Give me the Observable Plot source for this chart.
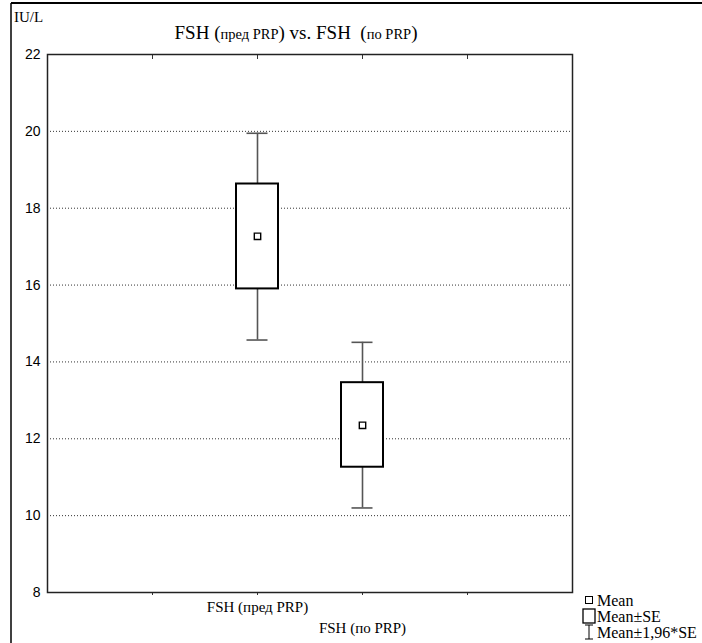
<!DOCTYPE html>
<html>
<head>
<meta charset="utf-8">
<script src="https://cdn.jsdelivr.net/npm/d3@7"></script>
<script src="https://cdn.jsdelivr.net/npm/@observablehq/plot@0.6"></script>
<style>
  html, body { margin: 0; padding: 0; background: white; }
  #chart { position: relative; width: 702px; height: 643px; }
  .serif-label { font-family: "Liberation Serif", "Times New Roman", serif !important; font-size: 15px !important; }
</style>
</head>
<body>
<div id="chart"></div>
<script>
// ---- data ----
const categories = ["FSH (пред PRP)", "FSH (по PRP)"];
const means  = [17.27, 12.35];
const seLow  = [15.90, 11.26];
const seHigh = [18.63, 13.46];
const ciLow  = [14.57, 10.20];
const ciHigh = [19.95, 14.51];
const yTicks = [8, 10, 12, 14, 16, 18, 20, 22];
const gridValues = [10, 12, 14, 16, 18, 20];
const xTicks = [1, 2, 3, 4];
const legendLabels = ["Mean", "Mean±SE", "Mean±1,96*SE"];
const yUnit = "IU/L";

const rows = categories.map((c, i) => ({
  i, cat: c, pos: i + 2,
  mean: means[i], seLow: seLow[i], seHigh: seHigh[i],
  ciLow: ciLow[i], ciHigh: ciHigh[i]
}));

const serif = "'Liberation Serif', 'Times New Roman', serif";
const sans = "'Liberation Sans', Arial, sans-serif";

const chart = Plot.plot({
  width: 702, height: 643,
  marginLeft: 47, marginRight: 130, marginTop: 54, marginBottom: 51,
  style: { background: "white", color: "black" },
  x: { domain: [0, 5], axis: null },
  y: { domain: [8, 22], axis: null },
  marks: [
    Plot.ruleY(gridValues, { stroke: "#333", strokeDasharray: "1,2", strokeWidth: 1 }),
    Plot.axisX({ anchor: "top", ticks: xTicks, tickSize: -4, tickFormat: () => "", label: null, stroke: "#333" }),
    Plot.axisX({ anchor: "bottom", ticks: xTicks, tickSize: 3, tickFormat: () => "", label: null, stroke: "#333" }),
    Plot.axisY({ ticks: yTicks, tickSize: 0, tickPadding: 7, label: null, fontSize: 14, fontFamily: sans, fill: "black" }),
    Plot.frame({ stroke: "#222", strokeWidth: 1.5 }),
    // whiskers (Mean ± 1.96*SE)
    Plot.ruleX(rows, { x: "pos", y1: "ciLow", y2: "ciHigh", stroke: "#555", strokeWidth: 1.6 }),
    Plot.ruleY(rows, { y: "ciHigh", x1: d => d.pos - 0.1, x2: d => d.pos + 0.1, stroke: "#555", strokeWidth: 1.6 }),
    Plot.ruleY(rows, { y: "ciLow", x1: d => d.pos - 0.1, x2: d => d.pos + 0.1, stroke: "#555", strokeWidth: 1.6 }),
    // boxes (Mean ± SE)
    Plot.rect(rows, { x1: d => d.pos - 0.2, x2: d => d.pos + 0.2, y1: "seLow", y2: "seHigh",
                      fill: "white", stroke: "black", strokeWidth: 2 }),
    // mean
    Plot.dot(rows, { x: "pos", y: "mean", symbol: "square", r: 3.6, fill: "white", stroke: "black", strokeWidth: 1.4 }),
    // category labels (staggered)
    Plot.text(rows, { filter: d => d.i === 0, x: "pos", text: "cat", frameAnchor: "bottom", dy: 19,
                      fontSize: 15, fill: "black" }),
    Plot.text(rows, { filter: d => d.i === 1, x: "pos", text: "cat", frameAnchor: "bottom", dy: 40,
                      fontSize: 15, fill: "black" })
  ]
});

document.getElementById("chart").appendChild(chart);

const svg = d3.select(chart);
// category labels in serif
svg.selectAll("text").each(function () {
  if (categories.includes(this.textContent)) {
    this.setAttribute("class", "serif-label");
    this.setAttribute("font-family", "Liberation Serif");
    this.style.fontFamily = "'Liberation Serif', serif";
  }
});

// ---- chrome: outer border, title, unit, legend ----
svg.append("line").attr("x1", 11).attr("x2", 11).attr("y1", 3).attr("y2", 643)
  .attr("stroke", "black").attr("stroke-width", 1.5);
svg.append("line").attr("x1", 11).attr("x2", 702).attr("y1", 3).attr("y2", 3)
  .attr("stroke", "black").attr("stroke-width", 2);

svg.append("text").attr("x", 14).attr("y", 22)
  .attr("text-anchor", "start")
  .style("font-family", serif).style("font-size", "15px").attr("fill", "black").text(yUnit);

const title = svg.append("text").attr("x", 296).attr("y", 39).attr("text-anchor", "middle")
  .style("font-family", serif).attr("fill", "black");
const parts = [
  ["FSH ", 19], ["(", 19], ["пред PRP", 14.5], [")", 19], [" vs. FSH\u00a0\u00a0", 19],
  ["(", 19], ["по PRP", 14.5], [")", 19]
];
parts.forEach(([t, s]) => title.append("tspan").style("font-size", s + "px").text(t));

// legend
const lg = svg.append("g");
const lx = 583, ly0 = 600, lstep = 16;
// Mean symbol
lg.append("rect").attr("x", lx + 2.5).attr("y", ly0 - 3.5).attr("width", 7).attr("height", 7)
  .attr("fill", "white").attr("stroke", "black").attr("stroke-width", 1);
// Mean±SE symbol
lg.append("rect").attr("x", lx).attr("y", ly0 + lstep - 7).attr("width", 12).attr("height", 14)
  .attr("fill", "white").attr("stroke", "black").attr("stroke-width", 1.3);
// Mean±1.96SE symbol
const wy = ly0 + 2 * lstep;
lg.append("line").attr("x1", lx + 6).attr("x2", lx + 6).attr("y1", wy - 7).attr("y2", wy + 7).attr("stroke", "black");
lg.append("line").attr("x1", lx + 2).attr("x2", lx + 10).attr("y1", wy - 7).attr("y2", wy - 7).attr("stroke", "black");
lg.append("line").attr("x1", lx + 2).attr("x2", lx + 10).attr("y1", wy + 7).attr("y2", wy + 7).attr("stroke", "black");
legendLabels.forEach((t, i) => {
  lg.append("text").attr("x", lx + 14).attr("y", ly0 + i * lstep).attr("dy", "0.35em")
    .attr("text-anchor", "start")
    .style("font-family", serif).style("font-size", "16px").attr("fill", "black").text(t);
});
</script>
</body>
</html>
